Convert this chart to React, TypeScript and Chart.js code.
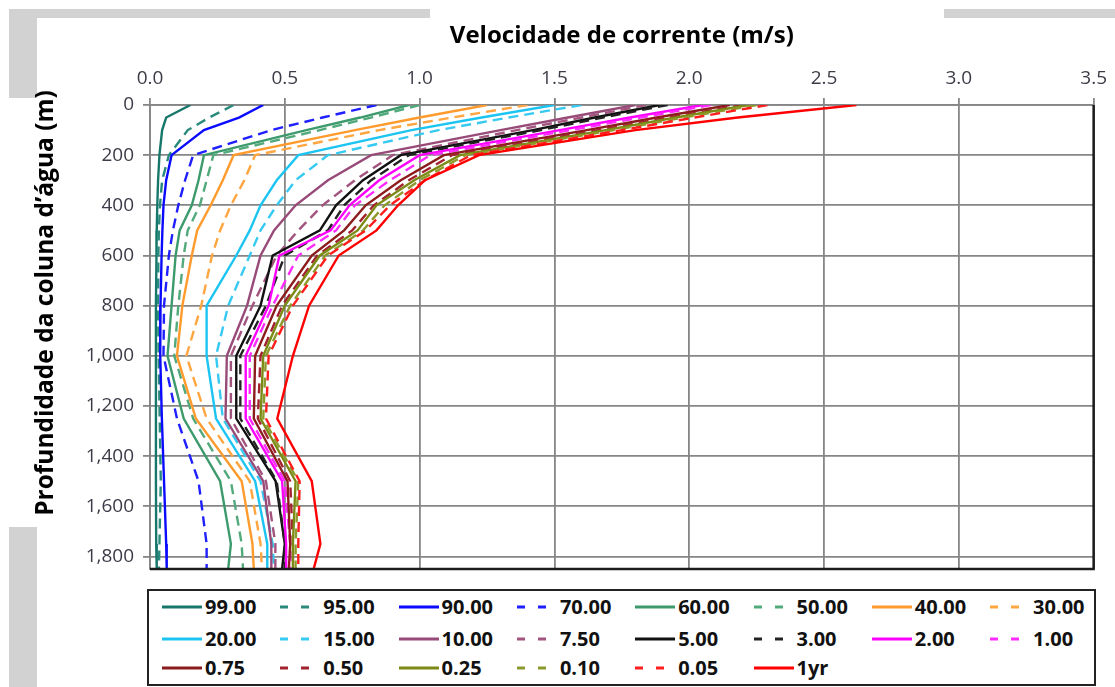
import React, { useEffect, useRef } from 'react';
import { Chart, registerables } from 'chart.js';

Chart.register(...registerables);

// ---------- DATA ----------
const X_TITLE = 'Velocidade de corrente (m/s)';
const Y_TITLE = 'Profundidade da coluna d\u2019água (m)';

const depths = [0, 50, 100, 200, 300, 400, 500, 600, 800, 1000, 1250, 1500, 1750, 1850];

const p99 = [0.15, 0.06, 0.045, 0.035, 0.03, 0.027, 0.025, 0.024, 0.022, 0.022, 0.022, 0.022, 0.023, 0.025];
const p95 = [0.31, 0.22, 0.14, 0.07, 0.045, 0.037, 0.033, 0.031, 0.03, 0.032, 0.036, 0.04, 0.035, 0.033];
const p90 = [0.42, 0.33, 0.2, 0.08, 0.06, 0.05, 0.046, 0.043, 0.039, 0.038, 0.044, 0.052, 0.06, 0.062];
const p70 = [0.84, 0.64, 0.45, 0.16, 0.13, 0.105, 0.085, 0.07, 0.052, 0.05, 0.1, 0.18, 0.21, 0.21];
const p60 = [0.96, 0.78, 0.58, 0.2, 0.18, 0.155, 0.11, 0.095, 0.08, 0.065, 0.125, 0.26, 0.3, 0.29];
const p50 = [1.0, 0.82, 0.63, 0.235, 0.21, 0.185, 0.14, 0.125, 0.105, 0.09, 0.16, 0.3, 0.34, 0.345];
const p40 = [1.25, 1.0, 0.76, 0.31, 0.27, 0.225, 0.175, 0.155, 0.12, 0.1, 0.17, 0.34, 0.38, 0.385];
const p30 = [1.4, 1.12, 0.85, 0.39, 0.35, 0.3, 0.26, 0.23, 0.19, 0.135, 0.21, 0.37, 0.41, 0.415];
const p20 = [1.5, 1.23, 0.97, 0.55, 0.47, 0.41, 0.37, 0.32, 0.21, 0.21, 0.245, 0.39, 0.435, 0.435];
const p15 = [1.6, 1.33, 1.07, 0.66, 0.54, 0.47, 0.41, 0.37, 0.29, 0.245, 0.27, 0.41, 0.455, 0.46];
const p10 = [1.8, 1.55, 1.3, 0.82, 0.66, 0.54, 0.46, 0.41, 0.36, 0.285, 0.28, 0.42, 0.45, 0.45];
const p7_50 = [1.84, 1.6, 1.36, 0.9, 0.76, 0.64, 0.55, 0.47, 0.38, 0.3, 0.3, 0.43, 0.465, 0.465];
const p5 = [1.89, 1.65, 1.42, 0.93, 0.79, 0.69, 0.63, 0.455, 0.41, 0.32, 0.32, 0.466, 0.5, 0.49];
const p3 = [1.92, 1.68, 1.45, 0.96, 0.82, 0.72, 0.66, 0.5, 0.43, 0.335, 0.335, 0.47, 0.5, 0.5];
const p2 = [2.05, 1.78, 1.52, 1.0, 0.85, 0.74, 0.67, 0.48, 0.44, 0.355, 0.355, 0.49, 0.505, 0.505];
const p1 = [2.08, 1.82, 1.56, 1.04, 0.89, 0.76, 0.69, 0.55, 0.455, 0.37, 0.37, 0.5, 0.52, 0.52];
const p0_75 = [2.15, 1.88, 1.62, 1.09, 0.93, 0.8, 0.72, 0.6, 0.47, 0.39, 0.385, 0.51, 0.52, 0.515];
const p0_50 = [2.2, 1.92, 1.66, 1.12, 0.96, 0.83, 0.75, 0.62, 0.49, 0.41, 0.4, 0.52, 0.53, 0.53];
const p0_25 = [2.22, 1.95, 1.69, 1.15, 0.98, 0.84, 0.77, 0.63, 0.5, 0.42, 0.41, 0.54, 0.53, 0.53];
const p0_10 = [2.25, 1.98, 1.72, 1.17, 1.0, 0.87, 0.79, 0.65, 0.52, 0.43, 0.42, 0.55, 0.54, 0.54];
const p0_05 = [2.29, 2.02, 1.75, 1.19, 1.02, 0.89, 0.8, 0.66, 0.53, 0.44, 0.43, 0.555, 0.55, 0.55];
const p1yr = [2.62, 2.18, 1.8, 1.22, 1.02, 0.92, 0.84, 0.7, 0.59, 0.53, 0.472, 0.6, 0.632, 0.607];

const seriesLabels = ['99.00', '95.00', '90.00', '70.00', '60.00', '50.00', '40.00', '30.00',
  '20.00', '15.00', '10.00', '7.50', '5.00', '3.00', '2.00', '1.00',
  '0.75', '0.50', '0.25', '0.10', '0.05', '1yr'];
const seriesValues = [p99, p95, p90, p70, p60, p50, p40, p30, p20, p15, p10, p7_50,
  p5, p3, p2, p1, p0_75, p0_50, p0_25, p0_10, p0_05, p1yr];

// ---------- STYLES ----------
const seriesColors = ['#17776b', '#2a8a7c', '#0a0aff', '#1f1fff', '#3d9a6c', '#52a97b', '#ff9a2c', '#ffa640',
  '#1cc4f2', '#36c9f2', '#984a78', '#a2547f', '#111111', '#222222', '#ff00ff', '#ff2aff',
  '#8b1c1e', '#a3222f', '#7b8a14', '#8c9a2c', '#ff1e1e', '#ff0000'];
const seriesDashed = [false, true, false, true, false, true, false, true,
  false, true, false, true, false, true, false, true,
  false, true, false, true, true, false];

const GRID = '#868686';
const TICK_COLOR = '#3c3c48';
const FONT = "'Open Sans', 'DejaVu Sans', sans-serif";

const framePlugin = {
  id: 'frame',
  afterDatasetsDraw(chart: any) {
    const { ctx, chartArea: a } = chart;
    ctx.save();
    ctx.strokeStyle = '#1c1c1c';
    ctx.lineWidth = 2.5;
    ctx.beginPath();
    ctx.moveTo(a.left, a.bottom);
    ctx.lineTo(a.right, a.bottom);
    ctx.lineTo(a.right, a.top);
    ctx.stroke();
    ctx.restore();
  },
};

const yTitlePlugin = {
  id: 'yTitle',
  afterDraw(chart: any) {
    const { ctx } = chart;
    ctx.save();
    ctx.translate(46, 303);
    ctx.rotate(-Math.PI / 2);
    ctx.font = `bold 24.5px ${FONT}`;
    ctx.fillStyle = '#000';
    ctx.textAlign = 'center';
    ctx.textBaseline = 'middle';
    ctx.fillText(Y_TITLE, 0, 0);
    ctx.restore();
  },
};

function LegendSample({ color, dashed }: { color: string; dashed: boolean }) {
  return (
    <svg width={40} height={6} style={{ display: 'block' }}>
      <line x1={0} y1={3} x2={40} y2={3} stroke={color} strokeWidth={3}
        strokeDasharray={dashed ? '8 13' : undefined} />
    </svg>
  );
}

export default function App() {
  const canvasRef = useRef<HTMLCanvasElement | null>(null);

  useEffect(() => {
    if (!canvasRef.current) return;
    Chart.defaults.font.family = FONT;
    const n = seriesLabels.length;
    const datasets = seriesLabels.map((label, i) => ({
      label,
      data: depths.map((d, k) => ({ x: seriesValues[i][k], y: d })),
      borderColor: seriesColors[i],
      backgroundColor: seriesColors[i],
      borderWidth: 2.4,
      borderDash: seriesDashed[i] ? [10, 6] : [],
      pointRadius: 0,
      showLine: true,
      tension: 0,
      fill: false,
      order: n - 1 - i,
    }));

    const chart = new Chart(canvasRef.current, {
      type: 'scatter',
      data: { datasets },
      options: {
        animation: false,
        responsive: false,
        maintainAspectRatio: false,
        layout: { padding: { left: 30, right: 18, top: 8, bottom: 118 } },
        plugins: {
          legend: { display: false },
          tooltip: { enabled: false },
        },
        scales: {
          x: {
            type: 'linear',
            position: 'top',
            min: 0,
            max: 3.5,
            ticks: {
              stepSize: 0.5,
              callback: (v: any) => Number(v).toFixed(1),
              font: { size: 19 },
              color: TICK_COLOR,
              padding: 8,
            },
            grid: { color: GRID, lineWidth: 1.8, tickLength: 7 },
            border: { color: GRID, width: 1.8 },
            title: {
              display: true,
              text: X_TITLE,
              font: { size: 24, weight: 'bold' },
              color: '#000',
              padding: { top: 14, bottom: 0 },
            },
            afterFit: (s: any) => { s.height = 97; },
          },
          y: {
            type: 'linear',
            reverse: true,
            min: 0,
            max: 1850,
            ticks: {
              stepSize: 200,
              includeBounds: false,
              callback: (v: any) => Number(v).toLocaleString('en-US'),
              font: { size: 19 },
              color: TICK_COLOR,
              padding: 9,
            },
            grid: { color: GRID, lineWidth: 1.8, tickLength: 7 },
            border: { color: GRID, width: 1.8 },
            afterFit: (s: any) => { s.width = 120; },
          },
        },
      } as any,
      plugins: [framePlugin, yTitlePlugin],
    });
    return () => chart.destroy();
  }, []);

  const colX = (c: number) => 162 + c * 118.3;
  const rowY = [607, 639, 668];

  return (
    <div style={{ position: 'fixed', left: 0, top: 0, width: 1115, height: 687, background: '#fff', overflow: 'hidden' }}>
      <div style={{ position: 'absolute', left: 9, top: 9, width: 421, height: 9, background: '#d2d2d2' }} />
      <div style={{ position: 'absolute', left: 9, top: 9, width: 28, height: 89, background: '#d2d2d2' }} />
      <div style={{ position: 'absolute', left: 944, top: 9, width: 171, height: 9, background: '#d2d2d2' }} />
      <div style={{ position: 'absolute', left: 9, top: 527, width: 28, height: 160, background: '#d2d2d2' }} />
      <canvas ref={canvasRef} width={1115} height={687}
        style={{ position: 'absolute', left: 0, top: 0, width: 1115, height: 687 }} />
      <div style={{
        position: 'absolute', left: 147, top: 589, width: 949, height: 97,
        border: '2px solid #222', boxSizing: 'border-box', background: '#fff',
      }} />
      {seriesLabels.map((label, i) => {
        const c = i % 8;
        const r = Math.floor(i / 8);
        return (
          <div key={label} style={{
            position: 'absolute', left: colX(c), top: rowY[r] - 15, height: 30,
            display: 'flex', alignItems: 'center', whiteSpace: 'nowrap',
          }}>
            <LegendSample color={seriesColors[i]} dashed={seriesDashed[i]} />
            <span style={{
              marginLeft: 3, fontFamily: FONT, fontWeight: 700, fontSize: 20, color: '#111', lineHeight: '30px',
            }}>{label}</span>
          </div>
        );
      })}
    </div>
  );
}
